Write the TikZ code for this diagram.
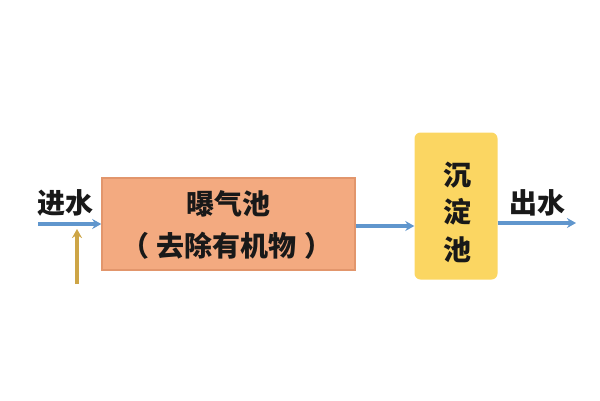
\documentclass[tikz,border=0pt]{standalone}
\usepackage{fontspec}
\setmainfont{Noto Sans CJK SC}
\usetikzlibrary{arrows.meta}

\definecolor{tankorange}{RGB}{243,170,128}
\definecolor{tankedge}{RGB}{226,150,108}
\definecolor{tankyellow}{RGB}{251,214,98}
\definecolor{flowblue}{RGB}{96,150,205}
\definecolor{airgold}{RGB}{205,165,70}

\tikzset{
  flow/.style={draw=flowblue,line width=4pt,-{Stealth[length=9pt,width=10pt]}},
  air/.style={draw=airgold,line width=3.5pt,-{Stealth[length=9pt,width=10pt]}},
  label/.style={font=\bfseries\fontsize{28}{30}\selectfont,inner sep=0pt,text=black!90},
}

\begin{document}
\begin{tikzpicture}[x=1pt,y=-1pt]
  \useasboundingbox (0,0) rectangle (600,400);

  \node[draw=tankedge,line width=1.5pt,fill=tankorange,minimum width=253pt,minimum height=92pt,inner sep=0pt] (aeration) at (228.5,224) {};
  \node[label] (aername) at (228,204) {曝气池};
  \node[label] (aernote) at (227,246) {（\hspace{8pt}去除有机物\hspace{8pt}）};

  \node[fill=tankyellow,rounded corners=6pt,minimum width=83pt,minimum height=147pt,inner sep=0pt] (settle) at (456,206) {};
  \node[label,align=center,font=\bfseries\fontsize{28}{37.5}\selectfont] (setname) at (457,212) {沉\\淀\\池};

  \node[label] (inlet) at (65,203) {进水};
  \node[label] (outlet) at (537,203) {出水};

  \coordinate (inleft) at (38,224);
  \coordinate (outright) at (576,223);
  \coordinate (airbot) at (77,284);
  \coordinate (airtop) at (77,229);

  \draw[flow] (inleft) -- (aeration.west |- inleft);
  \draw[flow] (aeration.east |- 0,226) -- (settle.west |- 0,226);
  \draw[flow] (settle.east |- outright) -- (outright);
  \draw[air] (airbot) -- (airtop);
\end{tikzpicture}
\end{document}
